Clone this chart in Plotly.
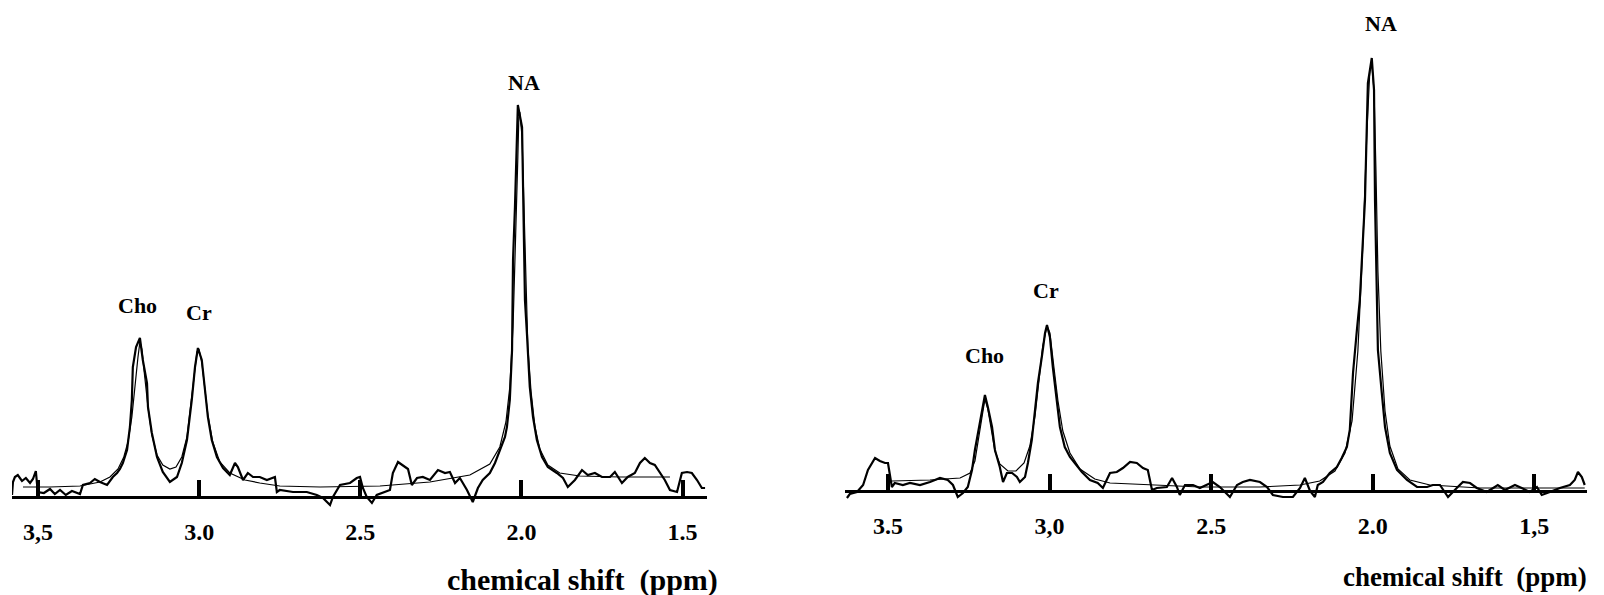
import plotly.graph_objects as go

# ---------------- data (chemical shift in ppm, signal in arbitrary units) ----------------
# Left spectrum – measured
left_ppm = [3.581, 3.578, 3.572, 3.563, 3.550, 3.538, 3.525, 3.516, 3.507, 3.501, 3.482, 3.463,
            3.448, 3.432, 3.414, 3.395, 3.370, 3.361, 3.339, 3.324, 3.308, 3.286, 3.268, 3.255,
            3.246, 3.237, 3.224, 3.215, 3.209, 3.206, 3.196, 3.184, 3.175, 3.162, 3.159, 3.147,
            3.131, 3.113, 3.091, 3.069, 3.054, 3.038, 3.023, 3.013, 3.004, 2.992, 2.982, 2.973,
            2.961, 2.945, 2.926, 2.905, 2.889, 2.880, 2.864, 2.849, 2.833, 2.812, 2.790, 2.765,
            2.759, 2.750, 2.709, 2.666, 2.635, 2.616, 2.594, 2.585, 2.563, 2.532, 2.511, 2.501,
            2.492, 2.480, 2.464, 2.449, 2.408, 2.399, 2.383, 2.368, 2.352, 2.340, 2.324, 2.306,
            2.284, 2.259, 2.237, 2.222, 2.206, 2.191, 2.169, 2.151, 2.135, 2.120, 2.098, 2.082,
            2.067, 2.051, 2.045, 2.036, 2.029, 2.026, 2.020, 2.014, 2.011, 1.998, 1.995, 1.992,
            1.989, 1.983, 1.974, 1.964, 1.952, 1.936, 1.918, 1.890, 1.871, 1.856, 1.834, 1.812,
            1.794, 1.772, 1.750, 1.725, 1.710, 1.688, 1.670, 1.648, 1.632, 1.617, 1.601, 1.586,
            1.570, 1.555, 1.539, 1.517, 1.502, 1.486, 1.471, 1.455, 1.440, 1.430]
left_signal = [2, 15, 20, 22, 16, 19, 14, 18, 26, 5, 4, 8,
               3, 7, 2, 6, 3, 12, 14, 18, 15, 12, 20, 24,
               28, 34, 47, 70, 97, 130, 150, 159, 137, 114, 90, 64,
               40, 25, 15, 20, 34, 57, 97, 130, 149, 137, 107, 80,
               57, 40, 29, 22, 34, 30, 17, 24, 20, 20, 17, 20,
               5, 7, 5, 5, 2, -1, -8, 0, 12, 14, 19, 20,
               9, 0, -6, 2, 7, 24, 35, 32, 28, 12, 19, 20,
               17, 27, 24, 25, 14, 19, 7, -5, 9, 17, 24, 34,
               47, 60, 70, 97, 147, 237, 290, 354, 392, 370, 307, 237,
               197, 164, 110, 80, 57, 40, 30, 24, 19, 10, 17, 27,
               22, 24, 20, 20, 25, 14, 20, 24, 34, 39, 34, 32,
               24, 17, 7, 5, 24, 25, 24, 17, 9, 9]
# Left spectrum – fitted curve
left_fit_ppm = [3.547, 3.463, 3.370, 3.308, 3.277, 3.252, 3.234, 3.221, 3.209, 3.200, 3.190, 3.184,
                3.178, 3.169, 3.159, 3.147, 3.131, 3.113, 3.091, 3.072, 3.054, 3.038, 3.026, 3.016,
                3.007, 3.001, 2.992, 2.982, 2.973, 2.958, 2.936, 2.905, 2.858, 2.812, 2.750, 2.625,
                2.439, 2.284, 2.160, 2.098, 2.067, 2.048, 2.036, 2.026, 2.017, 2.011, 2.008, 2.005,
                1.998, 1.992, 1.986, 1.980, 1.970, 1.958, 1.943, 1.918, 1.881, 1.819, 1.694, 1.539]
left_fit = [10, 10, 11, 15, 20, 28, 40, 55, 80, 110, 140, 155,
            148, 120, 90, 62, 42, 32, 28, 30, 40, 60, 90, 120,
            145, 148, 135, 108, 82, 55, 35, 24, 17, 14, 11, 10,
            11, 15, 22, 33, 50, 75, 110, 170, 260, 340, 380, 385,
            360, 280, 200, 150, 105, 70, 48, 32, 24, 21, 20, 20]

# Right spectrum – measured
right_ppm = [3.627, 3.618, 3.596, 3.577, 3.562, 3.540, 3.525, 3.509, 3.500, 3.494, 3.488, 3.479,
             3.454, 3.432, 3.401, 3.370, 3.339, 3.315, 3.299, 3.284, 3.268, 3.253, 3.240, 3.231,
             3.222, 3.209, 3.200, 3.191, 3.178, 3.169, 3.154, 3.144, 3.132, 3.116, 3.101, 3.092,
             3.076, 3.067, 3.055, 3.045, 3.036, 3.024, 3.014, 3.008, 2.999, 2.990, 2.977, 2.968,
             2.953, 2.937, 2.922, 2.900, 2.875, 2.851, 2.835, 2.813, 2.792, 2.773, 2.751, 2.730,
             2.711, 2.696, 2.683, 2.668, 2.637, 2.621, 2.606, 2.597, 2.581, 2.556, 2.535, 2.513,
             2.495, 2.473, 2.442, 2.420, 2.402, 2.380, 2.349, 2.327, 2.309, 2.278, 2.247, 2.225,
             2.210, 2.194, 2.179, 2.170, 2.154, 2.133, 2.111, 2.096, 2.080, 2.071, 2.061, 2.049,
             2.040, 2.024, 2.018, 2.015, 2.003, 1.996, 1.993, 1.987, 1.984, 1.972, 1.962, 1.947,
             1.925, 1.894, 1.863, 1.832, 1.814, 1.792, 1.767, 1.740, 1.721, 1.699, 1.678, 1.647,
             1.628, 1.613, 1.591, 1.560, 1.539, 1.514, 1.492, 1.477, 1.452, 1.421, 1.390, 1.375,
             1.365, 1.353, 1.344]
right_signal = [-7, -3, -1, 6, 21, 33, 30, 28, 28, 14, 4, 8,
                6, 8, 6, 9, 13, 11, 6, -6, -2, 4, 21, 41,
                58, 81, 96, 84, 64, 41, 24, 9, 18, 18, 14, 9,
                14, 28, 51, 81, 108, 134, 158, 166, 154, 124, 91, 64,
                44, 34, 28, 19, 11, 8, 3, 18, 19, 23, 29, 28,
                23, 21, 1, 3, 4, 13, 4, -4, 6, 6, 3, 6,
                9, 4, -6, 6, 9, 11, 9, 4, -4, -6, -6, 3,
                13, 0, -6, 6, 9, 18, 24, 33, 44, 61, 118, 161,
                191, 291, 358, 408, 433, 401, 291, 191, 141, 98, 64, 38,
                21, 11, 4, 4, 6, 6, -6, 3, 9, 8, 3, -1,
                3, 6, 1, 6, 3, -1, 4, -4, -1, 3, 6, 11,
                19, 14, 6]
# Right spectrum – fitted curve
right_fit_ppm = [3.488, 3.370, 3.277, 3.246, 3.231, 3.219, 3.209, 3.200, 3.191, 3.181, 3.169, 3.154,
                 3.129, 3.104, 3.079, 3.061, 3.045, 3.033, 3.021, 3.008, 2.999, 2.987, 2.974, 2.959,
                 2.937, 2.906, 2.860, 2.813, 2.689, 2.535, 2.349, 2.225, 2.164, 2.117, 2.086, 2.064,
                 2.046, 2.030, 2.018, 2.009, 2.003, 1.996, 1.990, 1.984, 1.975, 1.962, 1.947, 1.922,
                 1.885, 1.823, 1.668, 1.344]
right_fit = [10, 11, 13, 18, 30, 55, 78, 92, 82, 62, 40, 27,
             20, 20, 28, 45, 75, 110, 145, 165, 158, 125, 90, 60,
             38, 22, 12, 8, 6, 4, 4, 6, 10, 20, 38, 70,
             140, 250, 360, 420, 427, 400, 320, 220, 140, 80, 45, 22,
             11, 6, 3, 3]

tick_vals = [3.5, 3.0, 2.5, 2.0, 1.5]
left_tick_text = ["3,5", "3.0", "2.5", "2.0", "1.5"]
right_tick_text = ["3.5", "3,0", "2.5", "2.0", "1,5"]

peak_names = ["Cho", "Cr", "NA"]
left_label_ppm = [3.190, 3.001, 1.992]
left_label_y = [192, 185, 415]
right_label_ppm = [3.200, 3.011, 1.975]
right_label_y = [136, 201, 468]

axis_title = "chemical shift\u00a0\u00a0(ppm)"

# ---------------- figure ----------------
W, H = 1604, 595
SERIF = "Liberation Serif, Times New Roman, serif"

fig = go.Figure()
fig.add_trace(go.Scatter(x=left_fit_ppm, y=left_fit, mode="lines",
                         line=dict(color="black", width=1.2), xaxis="x", yaxis="y", showlegend=False))
fig.add_trace(go.Scatter(x=left_ppm, y=left_signal, mode="lines",
                         line=dict(color="black", width=2.2), xaxis="x", yaxis="y", showlegend=False))
fig.add_trace(go.Scatter(x=right_fit_ppm, y=right_fit, mode="lines",
                         line=dict(color="black", width=1.2), xaxis="x2", yaxis="y2", showlegend=False))
fig.add_trace(go.Scatter(x=right_ppm, y=right_signal, mode="lines",
                         line=dict(color="black", width=2.2), xaxis="x2", yaxis="y2", showlegend=False))

common_x = dict(showline=True, linewidth=3, linecolor="black", ticks="inside", ticklen=16,
                tickwidth=4, tickcolor="black", tickvals=tick_vals, showgrid=False, zeroline=False,
                tickfont=dict(family=SERIF, size=24, color="black", weight="bold"),
                ticklabelstandoff=12, anchor="free", automargin=False)

fig.update_layout(
    width=W, height=H,
    margin=dict(l=0, r=0, t=0, b=0, autoexpand=False),
    paper_bgcolor="white", plot_bgcolor="white",
    xaxis=dict(domain=[12 / W, 707 / W], range=[3.581, 1.424], ticktext=left_tick_text,
               position=(H - 497) / H, **common_x),
    yaxis=dict(domain=[0, 1], range=[-98, 497], visible=False, anchor="x", automargin=False),
    xaxis2=dict(domain=[845 / W, 1587 / W], range=[3.633, 1.337], ticktext=right_tick_text,
                position=(H - 491) / H, **common_x),
    yaxis2=dict(domain=[0, 1], range=[-104, 491], visible=False, anchor="x2", automargin=False),
)

annos = []
for name, xv, yv in zip(peak_names, left_label_ppm, left_label_y):
    annos.append(dict(x=xv, y=yv, xref="x", yref="y", text=name, showarrow=False,
                      xanchor="center", yanchor="middle",
                      font=dict(family=SERIF, size=22, color="black", weight="bold")))
for name, xv, yv in zip(peak_names, right_label_ppm, right_label_y):
    annos.append(dict(x=xv, y=yv, xref="x2", yref="y2", text=name, showarrow=False,
                      xanchor="center", yanchor="middle",
                      font=dict(family=SERIF, size=22, color="black", weight="bold")))
annos.append(dict(x=582 / W, y=1 - 580 / H, xref="paper", yref="paper", text=axis_title,
                  showarrow=False, xanchor="center", yanchor="middle",
                  font=dict(family=SERIF, size=30, color="black", weight="bold")))
annos.append(dict(x=1465 / W, y=1 - 577 / H, xref="paper", yref="paper", text=axis_title,
                  showarrow=False, xanchor="center", yanchor="middle",
                  font=dict(family=SERIF, size=27, color="black", weight="bold")))
fig.update_layout(annotations=annos)

fig.write_html("out.html",
               config={"displayModeBar": False},
               post_script="document.body.style.margin='0';document.body.style.padding='0';"
                           "document.body.style.overflow='hidden';")
